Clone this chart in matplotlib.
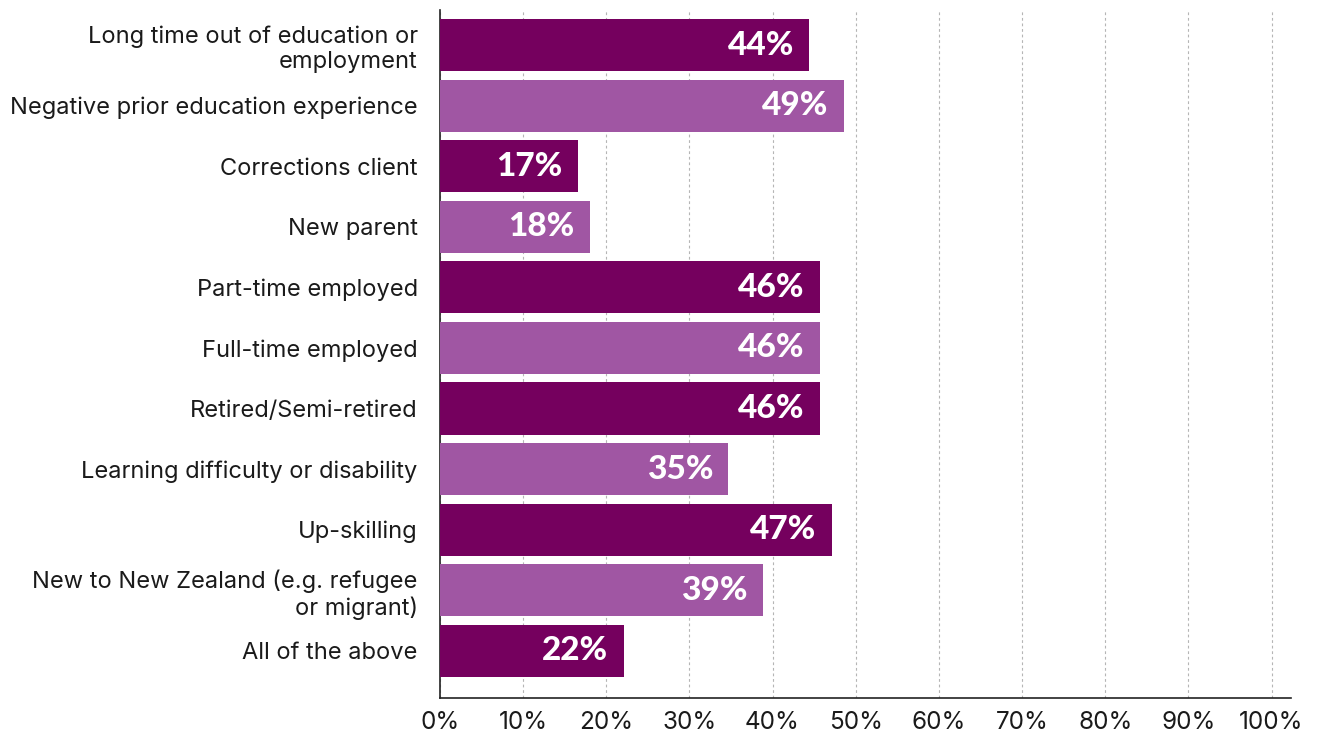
import matplotlib
matplotlib.use("Agg")
import matplotlib.pyplot as plt

categories = [
    "Long time out of education or\nemployment",
    "Negative prior education experience",
    "Corrections client",
    "New parent",
    "Part-time employed",
    "Full-time employed",
    "Retired/Semi-retired",
    "Learning difficulty or disability",
    "Up-skilling",
    "New to New Zealand (e.g. refugee\nor migrant)",
    "All of the above",
]
values = [44.4, 48.6, 16.6, 18.0, 45.7, 45.7, 45.7, 34.7, 47.1, 38.8, 22.1]
x_ticks = [0, 10, 20, 30, 40, 50, 60, 70, 80, 90, 100]
x_tick_labels = [f"{t}%" for t in x_ticks]

dark = "#75005E"
light = "#A056A3"
colors = [dark if i % 2 == 0 else light for i in range(len(values))]

fig = plt.figure(figsize=(13.17, 7.33), dpi=100)
ax = fig.add_axes([0.334, 0.0477, 0.646, 0.9387])

pos = list(range(len(categories)))
bars = ax.barh(pos, values, height=0.86, color=colors, zorder=3)

for b, v in zip(bars, values):
    ax.annotate(f"{round(v)}%", xy=(b.get_width(), b.get_y() + b.get_height() / 2),
                xytext=(-11, 0), textcoords="offset points",
                ha="right", va="center", color="white",
                fontsize=24, fontfamily="Lato", fontweight="black", zorder=4)

ax.set_xlim(0, 102.3)
ax.set_ylim(len(categories) - 1 + 0.78, -0.58)
ax.set_xticks(x_ticks)
ax.set_xticklabels(x_tick_labels, fontsize=17.5, fontfamily="Inter", color="#1a1a1a")
ax.set_yticks(pos)
ax.set_yticklabels(categories, fontsize=17, fontfamily="Inter", color="#1a1a1a",
                   linespacing=1.2)
ax.tick_params(axis="both", length=0)
ax.tick_params(axis="y", pad=16)
ax.tick_params(axis="x", pad=9)

ax.grid(axis="x", color="#b5b5b5", linestyle=(0, (2.5, 2.5)), linewidth=0.8, zorder=0)
ax.grid(axis="y", visible=False)
for s in ["top", "right"]:
    ax.spines[s].set_visible(False)
for s in ["left", "bottom"]:
    ax.spines[s].set_color("#222222")
    ax.spines[s].set_linewidth(1.2)

fig.savefig("out.png", dpi=100)
